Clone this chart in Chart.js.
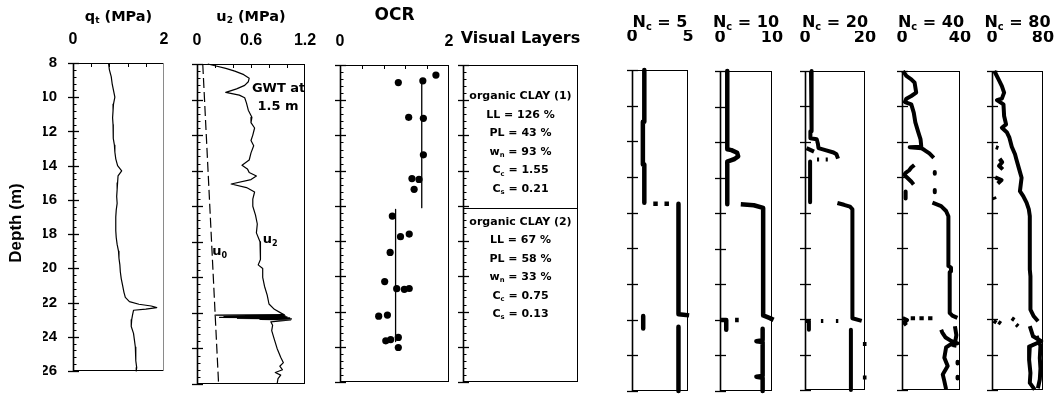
<!DOCTYPE html>
<html>
<head>
<meta charset="utf-8">
<script src="https://cdn.jsdelivr.net/npm/chart.js@4.4.1/dist/chart.umd.min.js"></script>
<style>
  html, body { margin: 0; padding: 0; background: #fff; }
  #wrap { position: relative; width: 1064px; height: 396px; overflow: hidden; background: #fff; }
  #wrap canvas { position: absolute; left: 0; top: 0; }
</style>
</head>
<body>
<div id="wrap"></div>
<script>
// ---------------- data: [depth (m), value] pairs, null breaks a trace ----------------
const depthTicks = [8, 10, 12, 14, 16, 18, 20, 22, 24, 26];
const qtTicks = [0, 2];
const u2Ticks = [0, 0.6, 1.2];
const ocrTicks = [0, 2];
const ncFactors = [5, 10, 20, 40, 80];

const qtProfile = [
  [8.0, 0.78], [8.4, 0.80], [8.8, 0.84], [9.2, 0.86], [9.6, 0.89], [10.0, 0.92], [10.4, 0.89],
  [10.8, 0.88], [11.2, 0.87], [11.6, 0.88], [12.0, 0.88], [12.4, 0.89], [12.8, 0.91], [13.2, 0.92],
  [13.6, 0.94], [14.0, 0.98], [14.3, 1.07], [14.6, 0.99], [15.0, 0.98], [15.4, 0.97], [15.8, 0.96],
  [16.2, 0.97], [16.6, 0.95], [17.0, 0.94], [17.4, 0.94], [17.8, 0.94], [18.2, 0.95], [18.6, 0.97],
  [19.0, 1.00], [19.4, 1.01], [19.8, 1.03], [20.2, 1.04], [20.6, 1.06], [21.0, 1.09], [21.4, 1.12],
  [21.7, 1.15], [21.95, 1.24], [22.1, 1.45], [22.2, 1.72], [22.3, 1.84], [22.38, 1.60], [22.45, 1.33],
  [22.7, 1.31], [23.0, 1.29], [23.4, 1.28], [23.8, 1.33], [24.2, 1.35], [24.6, 1.37], [25.0, 1.38],
  [25.4, 1.38], [25.8, 1.40], [26.0, 1.39]
];

const u2Profile = [
  [8.0, 0.12], [8.1, 0.20], [8.25, 0.32], [8.4, 0.42], [8.6, 0.52], [8.8, 0.58], [9.0, 0.57],
  [9.2, 0.53], [9.4, 0.44], [9.6, 0.32], [9.75, 0.47], [9.9, 0.53], [10.2, 0.55], [10.6, 0.57],
  [11.0, 0.61], [11.3, 0.60], [11.6, 0.64], [12.0, 0.62], [12.3, 0.60], [12.6, 0.63], [13.0, 0.60],
  [13.4, 0.58], [13.7, 0.50], [13.9, 0.56], [14.1, 0.58], [14.3, 0.66], [14.5, 0.60], [14.75, 0.38],
  [14.95, 0.55], [15.2, 0.64], [15.6, 0.62], [16.0, 0.62], [16.5, 0.65], [17.0, 0.67], [17.5, 0.66],
  [18.0, 0.70], [18.5, 0.70], [19.0, 0.71], [19.3, 0.68], [19.5, 0.73], [20.0, 0.73], [20.5, 0.75],
  [21.0, 0.78], [21.5, 0.80], [21.8, 0.86], [22.0, 0.93], [22.1, 0.97], [22.13, 0.20], [22.16, 0.98],
  [22.19, 0.30], [22.22, 1.00], [22.25, 0.25], [22.28, 1.03], [22.31, 0.45], [22.34, 1.05],
  [22.37, 0.70], [22.4, 1.04], [22.5, 0.82], [22.7, 0.84], [23.0, 0.83], [23.5, 0.86], [24.0, 0.89],
  [24.5, 0.93], [24.8, 0.96], [25.0, 0.92], [25.2, 0.95], [25.35, 0.87], [25.5, 0.93], [25.7, 0.90],
  [26.0, 0.89]
];

const u0Line = [[8.0, 0.064], [26.0, 0.24]];

const ocrPoints = [
  [8.57, 1.76], [9.0, 1.07], [8.9, 1.52], [10.97, 1.26], [11.03, 1.53], [13.1, 1.53], [14.45, 1.32],
  [14.5, 1.45], [15.06, 1.36], [16.58, 0.96], [17.75, 1.11], [17.6, 1.27], [18.64, 0.92], [20.3, 0.82],
  [20.7, 1.04], [20.74, 1.18], [20.69, 1.27], [22.26, 0.71], [22.2, 0.87], [23.66, 0.84], [23.59, 0.93],
  [23.47, 1.07], [24.04, 1.07]
];
const ocrMeanUpper = [[8.8, 1.5], [16.1, 1.5]];
const ocrMeanLower = [[16.2, 1.02], [23.7, 1.02]];

const layerBoundary = 16.1;
const layer1Lines = ['organic CLAY (1)', 'LL = 126 %', 'PL = 43 %', 'w_n = 93 %', 'C_c = 1.55', 'C_s = 0.21'];
const layer2Lines = ['organic CLAY (2)', 'LL = 67 %', 'PL = 58 %', 'w_n = 33 %', 'C_c = 0.75', 'C_s = 0.13'];

const nc5Profile = [
  [8.0, 1.1], [10.9, 1.1], [10.9, 0.97], [13.3, 0.97], [13.3, 1.1], [15.45, 1.1], null,
  [15.5, 1.9], [15.5, 2.3], null,
  [15.5, 2.9], [15.5, 3.3], null,
  [15.5, 4.15], [21.7, 4.15], [21.72, 4.6], [21.76, 5.1], null,
  [21.8, 1.0], [22.5, 1.0], null,
  [22.4, 4.15], [26.0, 4.15]
];

const nc10Profile = [
  [8.0, 1.4], [12.4, 1.4], [12.45, 2.2], [12.6, 3.3], [12.8, 3.5], [12.95, 2.8], [13.05, 1.8],
  [13.1, 1.4], [15.5, 1.4], null,
  [15.5, 4.0], [15.55, 6.5], [15.7, 8.3], [21.75, 8.3], [21.9, 9.6], [22.0, 10.3], null,
  [22.0, 2.9], [22.0, 3.6], null,
  [22.0, 0.2], [22.0, 1.2], [22.55, 1.2], null,
  [22.5, 8.2], [23.15, 8.2], [23.2, 7.0], [23.25, 8.2], [25.15, 8.2], [25.2, 7.0], [25.25, 8.2], [26.0, 8.2]
];

const nc20Profile = [
  [8.0, 2.0], [10.9, 2.0], [10.9, 2.3], [11.4, 2.3], [11.4, 1.8], [11.8, 1.8], [11.85, 3.9], [12.1, 4.3],
  [12.35, 4.5], [12.45, 6.5], [12.6, 9.5], [12.7, 10.5], [12.95, 11.0], null,
  [12.35, 0.5], [12.55, 3.0], null,
  [13.0, 4.0], [13.0, 4.7], null,
  [13.0, 6.9], [13.0, 7.6], null,
  [13.1, 1.7], [15.4, 1.7], null,
  [15.45, 10.8], [15.55, 13.0], [15.65, 15.0], [15.8, 15.8], [21.95, 15.8], [22.1, 18.9], null,
  [22.1, 5.3], [22.1, 6.1], null,
  [22.1, 10.3], [22.1, 11.1], null,
  [22.1, 0.3], [22.1, 1.3], [22.6, 1.3], null,
  [22.6, 15.3], [26.0, 15.3], null,
  [23.4, 19.3], [23.4, 20.5], null,
  [25.3, 19.3], [25.3, 20.5]
];

const nc40Profile = [
  [8.0, 0.7], [8.28, 3.0], [8.47, 6.4], [8.66, 8.7], [9.22, 9.8], [9.41, 6.4], [9.56, 3.0], [9.75, 2.0],
  [9.88, 6.4], [10.35, 8.1], [10.9, 9.2], [11.39, 11.0], [11.86, 12.8], [12.27, 13.3], [12.3, 5.3],
  [12.36, 13.5], [12.46, 15.5], [12.65, 18.9], [12.9, 21.9], null,
  [13.3, 8.5], [13.45, 6.4], [13.6, 5.0], [13.75, 2.5], [13.85, 1.5], [14.05, 4.0], [14.25, 6.5], [14.4, 8.0], null,
  [13.7, 22.6], [13.8, 22.6], null,
  [14.72, 22.6], [14.84, 22.6], null,
  [14.8, 2.5], [15.2, 2.5], null,
  [15.43, 21.0], [15.62, 27.0], [15.9, 30.4], [16.2, 32.0], [19.0, 32.0], [19.1, 33.8], [19.3, 33.8],
  [19.35, 32.9], [21.65, 32.9], [21.8, 34.7], [21.93, 38.2], null,
  [21.95, 6.0], [21.95, 9.0], null,
  [21.95, 12.0], [21.95, 15.0], null,
  [21.95, 18.0], [21.95, 21.0], null,
  [21.95, 0.5], [22.05, 3.5], [22.2, 1.5], [22.35, 3.0], null,
  [22.6, 27.0], [22.76, 27.8], [23.04, 30.1], [23.23, 33.8], [23.37, 38.3], [23.45, 33.0], [23.6, 30.4],
  [24.18, 29.2], [24.65, 31.5], [25.12, 28.1], [25.5, 29.2], [25.95, 30.4], null,
  [22.4, 36.5], [22.9, 37.5], [23.6, 36.0], null,
  [24.4, 38.3], [24.5, 38.3], null,
  [25.25, 38.3], [25.35, 38.3]
];

const nc80Profile = [
  [8.0, 3.6], [8.47, 10.3], [8.85, 15.5], [9.22, 19.0], [9.56, 15.5], [9.64, 7.7], [9.88, 18.0],
  [10.54, 19.0], [11.01, 22.1], [11.2, 15.5], [11.45, 23.2], [11.76, 27.3], [12.27, 31.0], [12.7, 36.1],
  [12.99, 38.3], [13.55, 42.7], [14.02, 46.4], [14.78, 43.8], [15.06, 49.0], [15.43, 54.2], [15.81, 57.8],
  [16.19, 59.3], [19.2, 59.3], [19.58, 60.3], [21.46, 60.3], [21.84, 65.5], [22.12, 72.2], null,
  [22.1, 2.5], [22.2, 7.0], null,
  [22.15, 10.0], [22.25, 14.0], null,
  [21.95, 31.0], [22.05, 35.0], null,
  [22.3, 38.0], [22.4, 41.0], null,
  [22.4, 59.3], [22.97, 64.4], [23.25, 77.3], [23.54, 59.3], [24.29, 58.2], [25.04, 60.3], [25.6, 59.3],
  [25.98, 67.0], null,
  [22.95, 70.0], [23.5, 76.0], [24.2, 75.0], [24.8, 76.0], [25.4, 75.0], [25.9, 72.0], null,
  [12.3, 6.0], [12.35, 10.0], null,
  [12.95, 12.0], [13.15, 16.0], [13.35, 11.0], [13.55, 17.0], null,
  [14.0, 5.0], [14.15, 15.0], [14.35, 9.0], null,
  [15.1, 3.0], [15.25, 4.5]
];

const ncProfiles = [nc5Profile, nc10Profile, nc20Profile, nc40Profile, nc80Profile];

// ---------------- drawing helpers ----------------
const W = 1120, H = 396;           // canvases run a little past the page edge, which is clipped
const FD = '"DejaVu Sans", sans-serif';
const FL = '"Liberation Sans", Arial, sans-serif';
const wrap = document.getElementById('wrap');
const XH = 40, YW = 30;

// split "N_c = 5" into runs; the char after "_" is a subscript
function runs(s) {
  const out = [];
  let buf = '';
  for (let i = 0; i < s.length; i++) {
    if (s[i] === '_') {
      if (buf) out.push([buf, false]);
      buf = '';
      out.push([s[i + 1], true]);
      i++;
    } else buf += s[i];
  }
  if (buf) out.push([buf, false]);
  return out;
}

function drawRich(ctx, str, x, y, size, family, align) {
  const rs = runs(str);
  const fontOf = sub => `bold ${sub ? size * 0.62 : size}px ${family}`;
  let w = 0;
  rs.forEach(([t, sub]) => { ctx.font = fontOf(sub); w += ctx.measureText(t).width; });
  let cx = align === 'left' ? x : align === 'right' ? x - w : x - w / 2;
  ctx.textAlign = 'left';
  ctx.textBaseline = 'alphabetic';
  ctx.fillStyle = '#000';
  rs.forEach(([t, sub]) => {
    ctx.font = fontOf(sub);
    ctx.fillText(t, cx, sub ? y + size * 0.2 : y);
    cx += ctx.measureText(t).width;
  });
}

function seg(ctx, x1, y1, x2, y2) {
  ctx.beginPath(); ctx.moveTo(x1, y1); ctx.lineTo(x2, y2); ctx.stroke();
}

function toPoints(pairs) {
  return pairs.map(p => p ? { x: p[1], y: p[0] } : { x: null, y: null });
}

function trace(pairs, width, extra) {
  return Object.assign({
    data: toPoints(pairs), showLine: true, borderColor: '#000', backgroundColor: '#000',
    borderWidth: width, pointRadius: 0, spanGaps: false, borderJoinStyle: 'round',
    borderCapStyle: 'butt', clip: false
  }, extra || {});
}

function decorate(chart, cfg) {
  const { ctx, chartArea: a, scales: { x, y } } = chart;
  const L = Math.round(a.left), T = Math.round(a.top), R = Math.round(a.right), B = Math.round(a.bottom);
  ctx.save();
  ctx.strokeStyle = '#000';
  ctx.lineCap = 'butt';
  ctx.lineWidth = 1;
  // box
  seg(ctx, L, T + 0.5, R, T + 0.5);
  seg(ctx, L, B - 0.5, R, B - 0.5);
  ctx.strokeStyle = cfg.rightColor || '#000';
  seg(ctx, R - 0.5, T, R - 0.5, B);
  ctx.strokeStyle = '#000';
  ctx.lineWidth = 1.6;
  seg(ctx, L + 0.5, T, L + 0.5, B);
  // depth ticks on the left axis
  ctx.lineWidth = 1.3;
  depthTicks.forEach(d => {
    const py = Math.round(y.getPixelForValue(d)) + 0.5;
    seg(ctx, L - 5, py, L + 6, py);
  });
  if (cfg.minorDepth) {
    ctx.lineWidth = 1;
    for (let k = 1; k < 45; k++) {
      if (k % 5 === 0) continue;
      const d = 8 + k * 0.4;
      const py = Math.round(y.getPixelForValue(d)) + 0.5;
      seg(ctx, L, py, L + 3.5, py);
    }
  }
  // small ticks along the top edge
  if (cfg.topStep) {
    ctx.lineWidth = 1;
    const n = Math.round((cfg.xRange[1] - cfg.xRange[0]) / cfg.topStep);
    for (let k = 1; k < n; k++) {
      const px = Math.round(x.getPixelForValue(cfg.xRange[0] + k * cfg.topStep)) + 0.5;
      seg(ctx, px, T, px, T + 4);
    }
  }
  // panel heading
  if (cfg.title) drawRich(ctx, cfg.title, (a.left + a.right) / 2, cfg.titleY, cfg.titleSize, cfg.titleFont, 'center');
  if (cfg.extra) cfg.extra(chart, ctx);
  ctx.restore();
}

function panel(cfg) {
  const [l, t, r, b] = cfg.area;
  const cv = document.createElement('canvas');
  cv.width = W; cv.height = H;
  wrap.appendChild(cv);
  const showX = !!cfg.xTicks;
  const showY = !!cfg.yLabels;
  return new Chart(cv, {
    type: 'scatter',
    data: { datasets: cfg.datasets },
    options: {
      responsive: false, animation: false, events: [],
      layout: { padding: { left: showY ? l - YW : l, top: showX ? t - XH : t, right: W - r, bottom: H - b } },
      plugins: { legend: { display: false }, tooltip: { enabled: false } },
      scales: {
        x: {
          type: 'linear', position: 'top', min: cfg.xRange[0], max: cfg.xRange[1], display: showX,
          afterBuildTicks: s => { if (showX) s.ticks = cfg.xTicks.map(v => ({ value: v })); },
          afterFit: s => { if (showX) s.height = XH; },
          grid: { display: false, drawTicks: false }, border: { display: false },
          ticks: {
            color: '#000', font: cfg.tickFont, padding: cfg.xPad, maxRotation: 0, autoSkip: false,
            callback: v => String(v)
          }
        },
        y: {
          type: 'linear', position: 'left', reverse: true, min: 8, max: 26, display: showY,
          afterBuildTicks: s => { s.ticks = depthTicks.map(v => ({ value: v })); },
          afterFit: s => { if (showY) s.width = YW; },
          grid: { display: false, drawTicks: false }, border: { display: false },
          ticks: { color: '#000', font: { family: FL, size: 15, weight: 'bold' }, padding: 16, autoSkip: false }
        }
      }
    },
    plugins: [{ id: 'panelDecor', afterDatasetsDraw: chart => decorate(chart, cfg) }]
  });
}

const leftTickFont = { family: FL, size: 16, weight: 'bold' };
const ncTickFont = { family: FD, size: 16, weight: 'bold' };

// cone resistance
panel({
  area: [73, 63, 164, 383], xRange: [0, 2], xTicks: qtTicks, tickFont: leftTickFont, xPad: 14,
  yLabels: true, minorDepth: true, topStep: 0.4, rightColor: '#8a8a8a',
  title: 'q_t (MPa)', titleY: 20.5, titleSize: 14.5, titleFont: FD,
  datasets: [trace(qtProfile, 1.2)],
  extra: (chart, ctx) => {
    ctx.save();
    ctx.translate(16, 223);
    ctx.rotate(-Math.PI / 2);
    ctx.font = `bold 17px ${FL}`;
    ctx.fillStyle = '#000';
    ctx.textAlign = 'center';
    ctx.textBaseline = 'middle';
    ctx.fillText('Depth (m)', 0, 0);
    ctx.restore();
  }
});

// pore pressure
panel({
  area: [197, 64, 305, 384], xRange: [0, 1.2], xTicks: u2Ticks, tickFont: leftTickFont, xPad: 14,
  minorDepth: true, topStep: 0.2,
  title: 'u_2 (MPa)', titleY: 20.5, titleSize: 14.5, titleFont: FD,
  datasets: [
    trace(u2Profile, 1.2),
    trace(u0Line, 1.2, { borderDash: [10, 4] })
  ],
  extra: (chart, ctx) => {
    const { x, y } = chart.scales;
    drawRich(ctx, 'GWT at', x.getPixelForValue(0.61), y.getPixelForValue(9.56), 13, FD, 'left');
    drawRich(ctx, '1.5 m', x.getPixelForValue(0.9), y.getPixelForValue(10.59), 13, FD, 'center');
    drawRich(ctx, 'u_2', x.getPixelForValue(0.73), y.getPixelForValue(18.07), 13, FD, 'left');
    drawRich(ctx, 'u_0', x.getPixelForValue(0.17), y.getPixelForValue(18.74), 13, FD, 'left');
  }
});

// overconsolidation ratio
panel({
  area: [340, 65, 449, 382], xRange: [0, 2], xTicks: ocrTicks, tickFont: leftTickFont, xPad: 14,
  minorDepth: true, topStep: 0.4,
  title: 'OCR', titleY: 20, titleSize: 17, titleFont: FD,
  datasets: [
    { data: toPoints(ocrPoints), pointRadius: 3.6, pointBackgroundColor: '#000', pointBorderColor: '#000', pointBorderWidth: 0, showLine: false, clip: false },
    trace(ocrMeanUpper, 1.3),
    trace(ocrMeanLower, 1.3)
  ]
});

// soil layers
panel({
  area: [463, 65, 578, 382], xRange: [0, 1], minorDepth: true,
  title: 'Visual Layers', titleY: 42.5, titleSize: 16, titleFont: FD,
  datasets: [],
  extra: (chart, ctx) => {
    const { y } = chart.scales;
    const a = chart.chartArea;
    const py = Math.round(y.getPixelForValue(layerBoundary)) + 0.5;
    ctx.lineWidth = 1;
    seg(ctx, a.left, py, a.right, py);
    const cx = (a.left + a.right) / 2;
    const top = y.getPixelForValue(8);
    layer1Lines.forEach((s, i) => drawRich(ctx, s, cx, top + 34 + i * 18.6, 11, FD, 'center'));
    layer2Lines.forEach((s, i) => drawRich(ctx, s, cx, py + 16.5 + i * 18.4, 11, FD, 'center'));
  }
});

// normalised profiles for each cone factor
const ncAreas = [[632, 70, 688, 391], [720, 71, 772, 391], [805, 71, 865, 390], [902, 71, 960, 390], [992, 71, 1043, 390]];
const ncWidths = [4.5, 4.5, 4, 4, 4];
ncFactors.forEach((nc, i) => {
  panel({
    area: ncAreas[i], xRange: [0, nc], xTicks: [0, nc], tickFont: ncTickFont, xPad: 24,
    title: 'N_c = ' + nc, titleY: 26.7, titleSize: 16, titleFont: FD,
    datasets: [trace(ncProfiles[i], ncWidths[i])]
  });
});
</script>
</body>
</html>
